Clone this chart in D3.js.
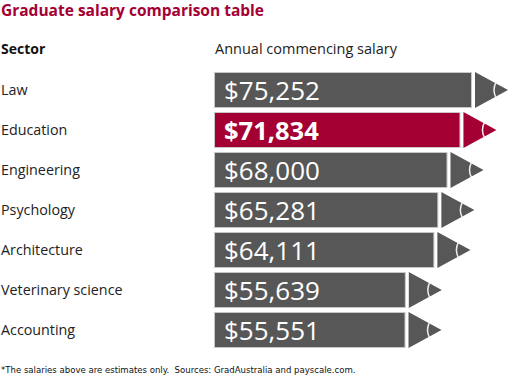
<!DOCTYPE html>
<html>
<head>
<meta charset="utf-8">
<script src="https://cdn.jsdelivr.net/npm/d3@7"></script>
<style>
  body { margin: 0; background: #fff; }
  svg { display: block; font-family: "Open Sans", "Noto Sans", sans-serif; }
</style>
</head>
<body>
<div id="chart"></div>
<script>
// ── Data ───────────────────────────────────────────────────────────────────
const sectors = ["Law", "Education", "Engineering", "Psychology", "Architecture", "Veterinary science", "Accounting"];
const salaries = [75252, 71834, 68000, 65281, 64111, 55639, 55551];
const highlighted = ["Education"];

const titleText = "Graduate salary comparison table";
const sectorHeader = "Sector";
const salaryHeader = "Annual commencing salary";
const footnote = "*The salaries above are estimates only.  Sources: GradAustralia and payscale.com.";

const data = sectors.map((s, i) => ({ sector: s, salary: salaries[i] }));

// ── SVG ────────────────────────────────────────────────────────────────────
const W = 509, H = 390;
const svg = d3.select("#chart").append("svg").attr("width", W).attr("height", H);

const red = "#a50034";
const grey = "#575757";
const barX = 214;
const tipLen = 36;

// ── Scales ─────────────────────────────────────────────────────────────────
const yScale = d3.scaleBand().domain(sectors).range([72, 348]).paddingInner(0.1);
// apex position of each pencil
const xScale = d3.scaleLinear().domain([0, d3.max(salaries)]).range([254, 508]);

// ── Headers ────────────────────────────────────────────────────────────────
svg.append("text")
  .attr("x", 1).attr("y", 16)
  .attr("fill", red)
  .style("font-size", "15.5px").style("font-weight", "700")
  .text(titleText);

svg.append("text")
  .attr("x", 1).attr("y", 54)
  .attr("fill", "#111")
  .style("font-size", "14px").style("font-weight", "700")
  .text(sectorHeader);

svg.append("text")
  .attr("x", 215).attr("y", 54)
  .attr("fill", "#222")
  .style("font-size", "14.5px")
  .text(salaryHeader);

// ── Rows ───────────────────────────────────────────────────────────────────
const bw = yScale.bandwidth();
const rows = svg.selectAll(".row").data(data).join("g")
  .attr("class", "row")
  .attr("transform", (d) => `translate(0,${yScale(d.sector)})`);

rows.append("text")
  .attr("x", 1).attr("y", bw / 2 + 5)
  .attr("fill", "#222")
  .style("font-size", "14.3px")
  .text((d) => d.sector);

const fillOf = (d) => (highlighted.includes(d.sector) ? red : grey);

// body
rows.append("rect")
  .attr("x", barX + 0.5).attr("y", 0.5)
  .attr("width", (d) => xScale(d.salary) - tipLen - barX - 1)
  .attr("height", bw - 1)
  .attr("fill", fillOf)
  .attr("stroke", "#c8c8c8").attr("stroke-width", 1);

// cone
rows.append("path")
  .attr("fill", fillOf)
  .attr("d", (d) => {
    const apex = xScale(d.salary);
    const x0 = apex - tipLen + 3;
    return `M${x0},0 L${apex},${bw / 2} L${x0},${bw} Z`;
  });

// graphite separator
rows.append("path")
  .attr("fill", "none")
  .attr("stroke", "#eee").attr("stroke-width", 1.5)
  .attr("d", (d) => {
    const apex = xScale(d.salary);
    const xs = apex - 12;
    const h = (bw / 2) * (12 / (tipLen - 3)) + 1;
    return `M${xs},${bw / 2 - h} Q${xs - 4},${bw / 2} ${xs},${bw / 2 + h}`;
  });

// value labels
rows.append("text")
  .attr("x", 224).attr("y", bw / 2 + 10)
  .attr("fill", "#fff")
  .style("font-size", (d) => (highlighted.includes(d.sector) ? "25.5px" : "26px"))
  .style("font-weight", (d) => (highlighted.includes(d.sector) ? "700" : "400"))
  .text((d) => "$" + d3.format(",")(d.salary));

// ── Footnote ───────────────────────────────────────────────────────────────
svg.append("text")
  .attr("x", 1).attr("y", 373)
  .attr("fill", "#111")
  .style("white-space", "pre")
  .style("font-family", "'Liberation Sans Narrow', 'DejaVu Sans Condensed', sans-serif")
  .style("font-size", "9.5px")
  .text(footnote);
</script>
</body>
</html>
